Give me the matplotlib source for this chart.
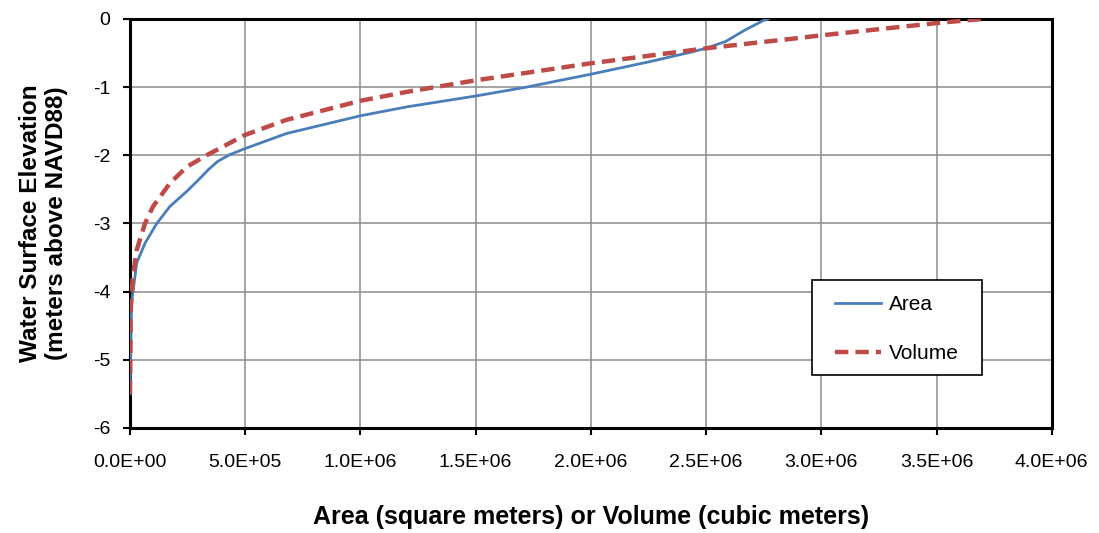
import matplotlib
matplotlib.use("Agg")
import matplotlib.pyplot as plt
from matplotlib.patches import Rectangle
from matplotlib.ticker import FuncFormatter

plt.rcParams['font.family'] = ['Liberation Sans', 'DejaVu Sans']

# Hypsometric curves: surface area and storage volume vs. water surface elevation
area_x = [0, 7e3, 1.3e4, 2.9e4, 6.5e4, 1.16e5, 1.73e5, 2.46e5, 3.03e5, 3.4e5, 3.8e5,
          4.33e5, 5.0e5, 6.79e5, 1.0e6, 1.2e6, 1.5e6, 1.72e6, 2.0e6, 2.25e6, 2.43e6,
          2.5e6, 2.585e6, 2.67e6, 2.75e6, 2.77e6]
area_y = [-5.5, -4.16, -4.0, -3.58, -3.29, -3.0, -2.75, -2.53, -2.34, -2.21, -2.09,
          -1.99, -1.90, -1.68, -1.42, -1.29, -1.13, -1.0, -0.81, -0.63, -0.49,
          -0.43, -0.33, -0.16, -0.02, 0.0]

volume_x = [0, 3e3, 1.2e4, 2.9e4, 6.5e4, 1.0e5, 1.73e5, 2.46e5, 3.32e5, 5.0e5, 6.79e5,
            1.0e6, 1.2e6, 1.5e6, 2.0e6, 2.5e6, 2.9e6, 3.0e6, 3.5e6, 3.7e6]
volume_y = [-5.5, -4.27, -3.78, -3.39, -3.0, -2.75, -2.41, -2.17, -2.0, -1.70, -1.48,
            -1.20, -1.07, -0.90, -0.65, -0.43, -0.28, -0.24, -0.06, 0.0]

x_ticks = [0, 5e5, 1e6, 1.5e6, 2e6, 2.5e6, 3e6, 3.5e6, 4e6]
y_ticks = [-6, -5, -4, -3, -2, -1, 0]

fig = plt.figure(figsize=(10.99, 5.33), dpi=100)
ax = fig.add_axes([0.1183, 0.197, 0.8387, 0.7674])

ax.plot(area_x, area_y, color='#4a7ebb', lw=2.0, label='Area', zorder=3)
ax.plot(volume_x, volume_y, color='#be4b48', lw=3.2, ls=(0, (3, 1.6)),
        label='Volume', zorder=3)

ax.set_xlim(0, 4e6)
ax.set_ylim(-6, 0)
ax.set_xticks(x_ticks)
ax.set_yticks(y_ticks)


def sci_fmt(v, pos):
    if v == 0:
        return '0.0E+00'
    exp = int(f'{v:.1E}'.split('E')[1])
    mant = v / 10 ** exp
    return f'{mant:.1f}E+{exp:02d}'


ax.xaxis.set_major_formatter(FuncFormatter(sci_fmt))
ax.yaxis.set_major_formatter(FuncFormatter(lambda v, pos: f'{int(round(v))}'))
ax.tick_params(axis='both', labelsize=14, direction='out', length=5, width=1.5,
               color='black')
ax.tick_params(axis='x', pad=14)
ax.tick_params(axis='y', pad=9)

ax.grid(True, color='#8c8c8c', lw=1.1)
ax.set_axisbelow(True)
for s in ax.spines.values():
    s.set_linewidth(2.2)
    s.set_color('black')

ax.set_xlabel('Area (square meters) or Volume (cubic meters)', fontsize=18,
              fontweight='bold', labelpad=24)
ax.set_ylabel('Water Surface Elevation\n(meters above NAVD88)', fontsize=17.5,
              fontweight='bold', labelpad=18, linespacing=1.18)

# Legend frame drawn separately so the entries can sit inset from its edge
ax.add_patch(Rectangle((0.7397, 0.1296), 0.1843, 0.2323, transform=ax.transAxes,
                       facecolor='white', edgecolor='black', lw=1.2, zorder=4))
leg = ax.legend(loc='upper left', bbox_to_anchor=(0.7646, 0.3250),
                fontsize=15, frameon=False, handlelength=2.2, handletextpad=0.4,
                labelspacing=1.45, borderpad=0, borderaxespad=0)
leg.set_zorder(5)

fig.savefig('out.png', dpi=100, facecolor='white')
